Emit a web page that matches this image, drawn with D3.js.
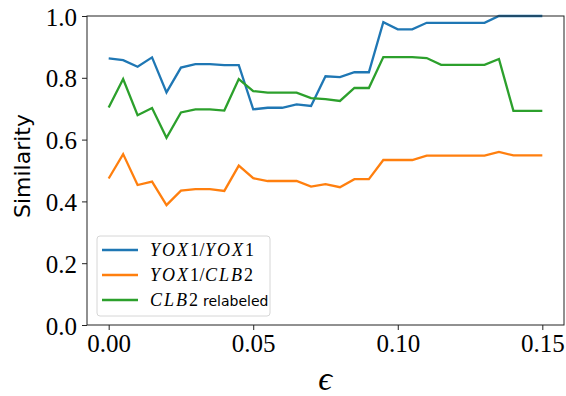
<!DOCTYPE html>
<head>
<meta charset="utf-8">
<script src='https://d3js.org/d3.v7.min.js'></script>
<title>Similarity vs epsilon</title>
<style>
    body { margin: 0; background: #fff; }
</style>
</head>

<body>
    <div id="graph_container"></div>

    <script>
    // eps values 0.000 .. 0.150 step 0.005
    let eps = [0.000, 0.005, 0.010, 0.015, 0.020, 0.025, 0.030, 0.035, 0.040, 0.045,
               0.050, 0.055, 0.060, 0.065, 0.070, 0.075, 0.080, 0.085, 0.090, 0.095,
               0.100, 0.105, 0.110, 0.115, 0.120, 0.125, 0.130, 0.135, 0.140, 0.145, 0.150]

    let yox_yox = [0.863, 0.857, 0.836, 0.866, 0.753, 0.833, 0.844, 0.844, 0.841, 0.841,
                   0.698, 0.703, 0.703, 0.714, 0.709, 0.805, 0.802, 0.818, 0.818, 0.980,
                   0.957, 0.957, 0.978, 0.978, 0.978, 0.978, 0.978, 1.000, 1.000, 1.000, 1.000]

    let yox_clb = [0.474, 0.553, 0.453, 0.464, 0.388, 0.435, 0.440, 0.440, 0.434, 0.516,
                   0.475, 0.466, 0.466, 0.466, 0.448, 0.456, 0.446, 0.472, 0.472, 0.534,
                   0.534, 0.534, 0.548, 0.548, 0.548, 0.548, 0.548, 0.560, 0.549, 0.549, 0.549]

    let clb_relabeled = [0.704, 0.796, 0.679, 0.702, 0.606, 0.688, 0.698, 0.698, 0.694, 0.796,
                         0.757, 0.752, 0.752, 0.752, 0.734, 0.731, 0.725, 0.767, 0.767, 0.867,
                         0.867, 0.867, 0.864, 0.842, 0.842, 0.842, 0.842, 0.861, 0.693, 0.693, 0.693]

    let x_ticks = [0.00, 0.05, 0.10, 0.15]
    let y_ticks = [0.0, 0.2, 0.4, 0.6, 0.8, 1.0]

    // legend labels as [text, style] pieces: 'i' = math italic, 'r' = upright, 's' = sans
    let labels = [
        [['YOX', 'i'], ['1/', 'r'], ['YOX', 'i'], ['1', 'r']],
        [['YOX', 'i'], ['1/', 'r'], ['CLB', 'i'], ['2', 'r']],
        [['CLB', 'i'], ['2', 'r'], [' relabeled', 's']]
    ]

    let settings = [
        {'values': yox_yox, 'color': '#1f77b4'},
        {'values': yox_clb, 'color': '#ff7f0e'},
        {'values': clb_relabeled, 'color': '#2ca02c'}
    ]

    let serif = "'Liberation Serif', 'Times New Roman', serif"
    let sans = "'DejaVu Sans', sans-serif"

    document.getElementById('graph_container').innerHTML = "<svg width=566 height=396></svg>";
    var svg = d3.select('svg')

    var x = d3.scaleLinear().domain([-0.0075, 0.1575]).range([87, 564])
    var y = d3.scaleLinear().domain([0, 1]).range([325, 16])

    settings.forEach(function(s) {
        let line = d3.line()
            .x(function(d, i) { return x(eps[i]); })
            .y(function(d) { return y(d); })
        svg.append('path')
            .datum(s.values)
            .attr('d', line)
            .style('fill', 'none')
            .style('stroke', s.color)
            .style('stroke-width', 2.3)
    })

    // frame
    svg.append('rect')
        .attr('x', 87).attr('y', 16)
        .attr('width', 564 - 87).attr('height', 325 - 16)
        .style('fill', 'none')
        .style('stroke', '#222')
        .style('stroke-width', 1)

    var xaxis = svg.append('g')
        .attr('transform', 'translate(0,325)')
        .call(d3.axisBottom(x).tickValues(x_ticks).tickFormat(d3.format('.2f')).tickSize(5).tickPadding(4))
    xaxis.select('.domain').remove()

    var yaxis = svg.append('g')
        .attr('transform', 'translate(87,0)')
        .call(d3.axisLeft(y).tickValues(y_ticks).tickFormat(d3.format('.1f')).tickSize(5).tickPadding(5))
    yaxis.select('.domain').remove()
    yaxis.selectAll('text').attr('dy', '0.36em')

    svg.selectAll('.tick line').style('stroke', '#222')
    svg.selectAll('.tick text')
        .style('font-family', serif)
        .style('font-size', '25px')
        .style('fill', '#000')

    svg.append('text')
        .attr('transform', 'translate(30,166) rotate(-90)')
        .style('text-anchor', 'middle')
        .style('font-family', sans)
        .style('font-size', '22px')
        .text('Similarity');

    svg.append('text')
        .attr('x', 325)
        .attr('y', 390)
        .style('text-anchor', 'middle')
        .style('font-family', serif)
        .style('font-style', 'italic')
        .style('font-size', '34px')
        .text('\u03f5');

    // legend
    var legend = svg.append('g')
    legend.append('rect')
        .attr('x', 97).attr('y', 236)
        .attr('width', 173).attr('height', 80)
        .attr('rx', 3)
        .style('fill', '#fff')
        .style('fill-opacity', 0.8)
        .style('stroke', '#d6d6d6')
        .style('stroke-width', 1)

    labels.forEach(function(parts, i) {
        let ly = 250 + i * 25
        legend.append('line')
            .attr('x1', 102).attr('x2', 138)
            .attr('y1', ly).attr('y2', ly)
            .style('stroke', settings[i].color)
            .style('stroke-width', 2.3)
        let t = legend.append('text')
            .attr('x', 150)
            .attr('y', ly + 5.5)
        parts.forEach(function(p) {
            t.append('tspan')
                .style('font-family', p[1] == 's' ? sans : serif)
                .style('font-style', p[1] == 'i' ? 'italic' : 'normal')
                .style('font-size', p[1] == 's' ? '14px' : '18px')
                .style('letter-spacing', p[1] == 'i' ? '2px' : (p[1] == 'r' ? '0.5px' : '0px'))
                .style('white-space', 'pre')
                .text(p[0])
        })
    })
    </script>
</body>
